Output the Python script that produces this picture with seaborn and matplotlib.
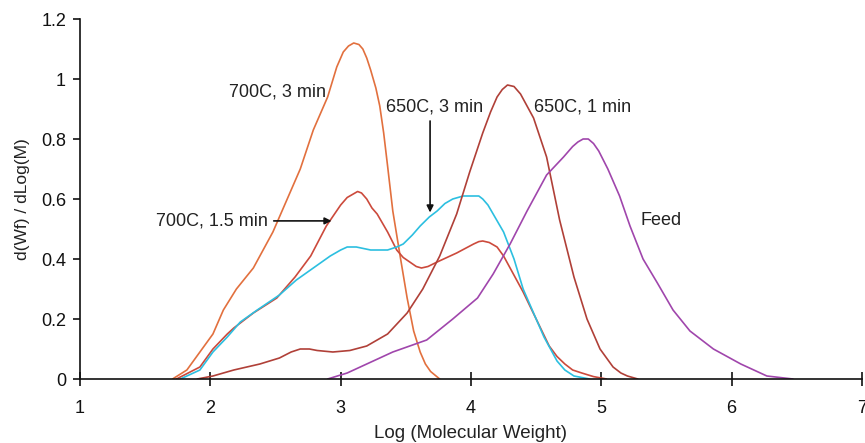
import pandas as pd
import seaborn as sns
from matplotlib import pyplot as plt
from matplotlib.ticker import FormatStrFormatter

# digitised molecular weight distributions, x = log(M), y = d(Wf)/dLog(M)
x_700c_3min = [1.71, 1.82, 1.92, 2.02, 2.10, 2.20, 2.33, 2.48, 2.61, 2.69, 2.79, 2.85,
               2.90, 2.97, 3.02, 3.06, 3.10, 3.14, 3.17, 3.20, 3.23, 3.27, 3.30, 3.33,
               3.36, 3.40, 3.46, 3.51, 3.56, 3.61, 3.65, 3.69, 3.76]
y_700c_3min = [0.0, 0.03, 0.09, 0.15, 0.23, 0.30, 0.37, 0.49, 0.62, 0.70, 0.83, 0.89,
               0.94, 1.04, 1.09, 1.11, 1.12, 1.115, 1.10, 1.07, 1.03, 0.97, 0.91, 0.82,
               0.71, 0.56, 0.40, 0.27, 0.16, 0.09, 0.05, 0.025, 0.0]

x_700c_15min = [1.74, 1.92, 2.02, 2.13, 2.18, 2.33, 2.51, 2.65, 2.77, 2.89, 3.00, 3.05,
                3.09, 3.13, 3.16, 3.20, 3.24, 3.28, 3.36, 3.43, 3.48, 3.53, 3.58, 3.62,
                3.67, 3.74, 3.89, 4.02, 4.06, 4.09, 4.14, 4.20, 4.25, 4.30, 4.40, 4.50,
                4.60, 4.66, 4.72, 4.78, 4.85, 4.94, 5.04]
y_700c_15min = [0.0, 0.04, 0.10, 0.15, 0.17, 0.22, 0.27, 0.34, 0.41, 0.51, 0.58, 0.605,
                0.615, 0.625, 0.62, 0.60, 0.57, 0.55, 0.49, 0.43, 0.405, 0.39, 0.375, 0.37,
                0.375, 0.39, 0.42, 0.45, 0.458, 0.46, 0.455, 0.44, 0.41, 0.37, 0.29, 0.20,
                0.11, 0.075, 0.05, 0.03, 0.02, 0.008, 0.0]

x_650c_3min = [1.77, 1.92, 2.02, 2.13, 2.23, 2.36, 2.53, 2.66, 2.79, 2.92, 3.00, 3.05,
               3.12, 3.23, 3.36, 3.43, 3.48, 3.55, 3.61, 3.68, 3.74, 3.80, 3.86, 3.94,
               4.02, 4.06, 4.09, 4.13, 4.17, 4.25, 4.33, 4.40, 4.48, 4.56, 4.66, 4.72,
               4.79, 4.91]
y_650c_3min = [0.0, 0.03, 0.09, 0.14, 0.19, 0.23, 0.28, 0.33, 0.37, 0.41, 0.43, 0.44,
               0.44, 0.43, 0.43, 0.44, 0.45, 0.48, 0.51, 0.54, 0.56, 0.585, 0.60, 0.61,
               0.61, 0.61, 0.60, 0.58, 0.55, 0.49, 0.40, 0.30, 0.22, 0.14, 0.06, 0.03,
               0.01, 0.0]

x_650c_1min = [1.90, 2.02, 2.18, 2.38, 2.53, 2.62, 2.69, 2.76, 2.82, 2.94, 3.07, 3.20,
               3.36, 3.51, 3.63, 3.76, 3.89, 3.99, 4.09, 4.15, 4.20, 4.24, 4.28, 4.33,
               4.38, 4.43, 4.48, 4.58, 4.68, 4.79, 4.89, 4.99, 5.09, 5.15, 5.20, 5.28]
y_650c_1min = [0.0, 0.01, 0.03, 0.05, 0.07, 0.09, 0.10, 0.10, 0.095, 0.09, 0.095, 0.11,
               0.15, 0.22, 0.30, 0.41, 0.55, 0.69, 0.82, 0.89, 0.94, 0.965, 0.98, 0.975,
               0.95, 0.91, 0.87, 0.74, 0.53, 0.34, 0.20, 0.10, 0.04, 0.02, 0.01, 0.0]

x_feed = [2.90, 3.05, 3.20, 3.40, 3.66, 3.86, 4.05, 4.17, 4.30, 4.43, 4.58, 4.71, 4.78,
          4.82, 4.86, 4.90, 4.94, 4.98, 5.05, 5.14, 5.22, 5.32, 5.43, 5.55, 5.68, 5.86,
          6.07, 6.27, 6.47]
y_feed = [0.0, 0.02, 0.05, 0.09, 0.13, 0.20, 0.27, 0.35, 0.45, 0.56, 0.68, 0.74, 0.775,
          0.79, 0.80, 0.80, 0.785, 0.76, 0.70, 0.61, 0.51, 0.40, 0.32, 0.23, 0.16, 0.10,
          0.05, 0.01, 0.0]

series = {
    "700C, 3 min": (x_700c_3min, y_700c_3min),
    "700C, 1.5 min": (x_700c_15min, y_700c_15min),
    "650C, 3 min": (x_650c_3min, y_650c_3min),
    "650C, 1 min": (x_650c_1min, y_650c_1min),
    "Feed": (x_feed, y_feed),
}
colors = {
    "700C, 3 min": "#e2703e",
    "700C, 1.5 min": "#cc4a3c",
    "650C, 3 min": "#2cbfe0",
    "650C, 1 min": "#b04038",
    "Feed": "#a046ac",
}


def build_frame():
    dfs = []
    for name, (xs, ys) in series.items():
        dfs.append(pd.DataFrame({"series": name, "logm": xs, "dwf": ys}))
    return pd.concat(dfs, ignore_index=True)


def main():
    sns.set_style("white")
    plt.rcParams["font.family"] = ["Liberation Sans", "DejaVu Sans"]
    text_col = "#222222"

    fig = plt.figure(figsize=(8.65, 4.43), dpi=100)
    ax = fig.add_axes([80 / 865, 64 / 443, 782 / 865, 360 / 443])

    df = build_frame()
    sns.lineplot(
        ax=ax, data=df, x="logm", y="dwf", hue="series", palette=colors,
        sort=False, estimator=None, legend=False, linewidth=1.2,
    )

    ax.set_xlim(1, 7)
    ax.set_ylim(0, 1.2)
    ax.set_xticks(range(1, 8))
    ax.set_yticks([0, 0.2, 0.4, 0.6, 0.8, 1.0, 1.2])
    ax.yaxis.set_major_formatter(FormatStrFormatter("%g"))
    ax.set_xlabel("Log (Molecular Weight)", fontsize=13.5, color=text_col, labelpad=6)
    ax.set_ylabel("d(Wf) / dLog(M)", fontsize=12.5, color=text_col, labelpad=8)

    for side in ["top", "right"]:
        ax.spines[side].set_visible(False)
    for side in ["left", "bottom"]:
        ax.spines[side].set_color("#111111")
        ax.spines[side].set_linewidth(1.2)
    ax.tick_params(axis="x", direction="inout", length=10, width=1.2,
                   labelsize=13, colors="#111111", pad=10)
    ax.tick_params(axis="y", direction="out", length=5, width=1.2,
                   labelsize=13, colors="#111111", pad=5)
    ax.xaxis.set_ticks_position("bottom")
    ax.yaxis.set_ticks_position("left")

    # curve labels
    fs = 13
    ax.text(2.14, 0.957, "700C, 3 min", fontsize=fs, color=text_col, va="center")
    ax.text(4.48, 0.907, "650C, 1 min", fontsize=fs, color=text_col, va="center")
    ax.text(3.72, 0.907, "650C, 3 min", fontsize=fs, color=text_col,
            va="center", ha="center")
    ax.text(5.30, 0.527, "Feed", fontsize=fs, color=text_col, va="center")
    ax.annotate("700C, 1.5 min", xy=(2.93, 0.527), xytext=(2.44, 0.527),
                fontsize=fs, color=text_col, va="center", ha="right",
                arrowprops=dict(arrowstyle="-|>", color="#111111", lw=1.2,
                                shrinkA=2, shrinkB=0, mutation_scale=10))
    ax.annotate("", xy=(3.686, 0.555), xytext=(3.686, 0.86),
                arrowprops=dict(arrowstyle="-|>", color="#111111", lw=1.2,
                                shrinkA=0, shrinkB=0, mutation_scale=10))

    plt.savefig("out.png", dpi=100)


if __name__ == "__main__":
    main()
